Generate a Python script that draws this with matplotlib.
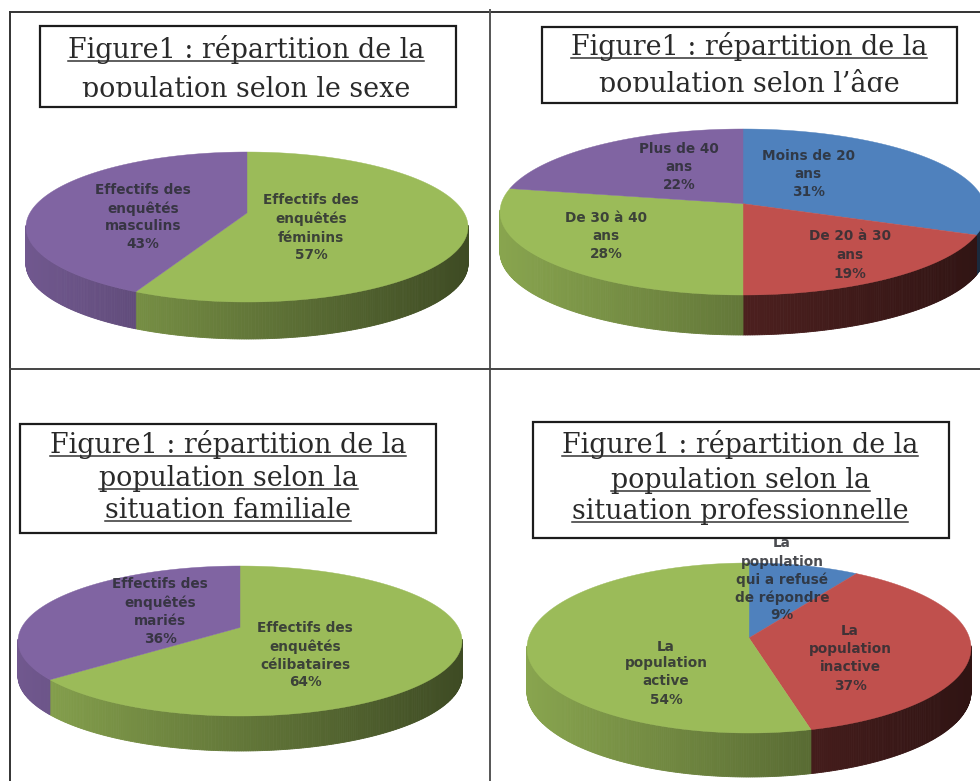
import numpy as np
import matplotlib
matplotlib.use("Agg")
import matplotlib.pyplot as plt
from matplotlib.patches import Rectangle

BLUE, RED, GREEN, PURPLE = "#4F81BD", "#C0504D", "#9BBB59", "#8064A2"

sex_values = [57, 43]
sex_colors = [GREEN, PURPLE]
sex_labels = ["Effectifs des\nenquêtés\nféminins\n57%", "Effectifs des\nenquêtés\nmasculins\n43%"]

age_values = [31, 19, 28, 22]
age_colors = [BLUE, RED, GREEN, PURPLE]
age_labels = ["Moins de 20\nans\n31%", "De 20 à 30\nans\n19%", "De 30 à 40\nans\n28%", "Plus de 40\nans\n22%"]

fam_values = [64, 36]
fam_colors = [GREEN, PURPLE]
fam_labels = ["Effectifs des\nenquêtés\ncélibataires\n64%", "Effectifs des\nenquêtés\nmariés\n36%"]

pro_values = [9, 37, 54]
pro_colors = [BLUE, RED, GREEN]
pro_labels = ["La\npopulation\nqui a refusé\nde répondre\n9%", "La\npopulation\ninactive\n37%", "La\npopulation\nactive\n54%"]

title_sex = ["Figure1 : répartition de la", "population selon le sexe"]
title_age = ["Figure1 : répartition de la", "population selon l’âge"]
title_fam = ["Figure1 : répartition de la", "population selon la", "situation familiale"]
title_pro = ["Figure1 : répartition de la", "population selon la", "situation professionnelle"]

fig = plt.figure(figsize=(9.8, 7.81), dpi=100, facecolor="white")
ax = fig.add_axes([0, 0, 1, 1])
ax.set_xlim(0, 980)
ax.set_ylim(781, 0)
ax.axis("off")

SIDE_SCALE = {RED: 0.62, BLUE: 0.8, GREEN: 1.0, PURPLE: 1.0}


def project(theta, k):
    u, v = np.sin(theta), np.cos(theta)
    d = 1 + k * v
    return u * np.sqrt(1 - k ** 2) / d, (v + k) / d


def pie3d(values, colors, labels, label_pos, cx, cy, rx, ry, depth, k):
    total = sum(values)
    edges = np.concatenate([[0], np.cumsum(values)]) / total * 2 * np.pi
    for i, col in enumerate(colors):
        th = np.linspace(edges[i], edges[i + 1], max(int(np.degrees(edges[i + 1] - edges[i]) * 2), 2))
        u, v = project(th, k)
        x, y = cx + rx * u, cy - ry * v
        base = np.array(matplotlib.colors.to_rgb(col)) * SIDE_SCALE[col]
        for j in range(len(th) - 1):
            if v[j] > 0.02 and v[j + 1] > 0.02:
                continue
            t = (x[j] - (cx - rx)) / (2 * rx)
            f = 0.88 - 0.48 * t
            ax.fill([x[j], x[j + 1], x[j + 1], x[j]],
                    [y[j], y[j + 1], y[j + 1] + depth, y[j] + depth],
                    color=base * f, lw=0.6, zorder=2)
    for i, col in enumerate(colors):
        th = np.linspace(edges[i], edges[i + 1], 240)
        u, v = project(th, k)
        ax.fill(np.r_[cx, cx + rx * u], np.r_[cy - ry * k, cy - ry * v],
                color=col, lw=0.3, zorder=3)
    for lab, (lx, ly) in zip(labels, label_pos):
        for n, line in enumerate(lab.split("\n")):
            ax.text(lx, ly[n], line, ha="center", va="center", fontsize=9.8,
                    family="DejaVu Sans", weight="bold", color="#2b2d33", alpha=0.85, zorder=5)


def title_box(lines, x0, y0, x1, y1, xc, baselines, underline, clip_bottom=None):
    ax.add_patch(Rectangle((x0, y0), x1 - x0, y1 - y0, fc="white", ec="#1c1c1c", lw=1.6, zorder=6))
    clip = Rectangle((x0, y0), x1 - x0, (clip_bottom or y1) - y0, transform=ax.transData)
    renderer = fig.canvas.get_renderer()
    for line, b, ul in zip(lines, baselines, underline):
        t = ax.text(xc, b, line, ha="center", va="baseline", fontsize=19.4,
                    family="DejaVu Serif", color="#2a2a2a", zorder=7)
        t.set_clip_path(clip)
        t.set_clip_on(True)
        if ul:
            bb = t.get_window_extent(renderer).transformed(ax.transData.inverted())
            ax.plot([bb.x0, bb.x1], [b + 3, b + 3], color="#333333", lw=1.1, zorder=7)


pie3d(sex_values, sex_colors, sex_labels,
      [(311, (200, 219, 238, 255)), (143, (190, 209, 226, 244))],
      247, 227, 221, 75, 37, 0.187)
pie3d(age_values, age_colors, age_labels,
      [(808, (156, 174, 192)), (850, (236, 255, 274)), (606, (218, 236, 254)), (679, (149, 167, 185))],
      743, 212, 243, 83, 40, 0.10)
pie3d(fam_values, fam_colors, fam_labels,
      [(305, (628, 647, 665, 682)), (160, (584, 603, 621, 639))],
      240, 641, 222, 75, 35, 0.18)
pie3d(pro_values, pro_colors, pro_labels,
      [(782, (543, 562, 580, 598, 615)), (850, (631, 649, 667, 686)), (666, (647, 663, 681, 700))],
      749, 648, 222, 85, 44, 0.118)

title_box(title_sex, 40, 26, 456, 107, 246, [58, 97], [True, False], clip_bottom=97)
title_box(title_age, 542, 27, 957, 103, 749, [55, 92], [True, False], clip_bottom=92)
title_box(title_fam, 20, 424, 436, 533, 228, [453, 486, 518], [True, True, True])
title_box(title_pro, 533, 422, 949, 538, 740, [453, 488, 519], [True, True, True])

frame = "#333333"
ax.plot([10, 10], [12, 781], color=frame, lw=1.4, zorder=8)
ax.plot([10, 980], [12, 12], color=frame, lw=1.4, zorder=8)
ax.plot([490, 490], [10, 781], color="#555555", lw=1.4, zorder=8)
ax.plot([10, 980], [369, 369], color="#444444", lw=1.4, zorder=8)

fig.savefig("out.png", dpi=100)
